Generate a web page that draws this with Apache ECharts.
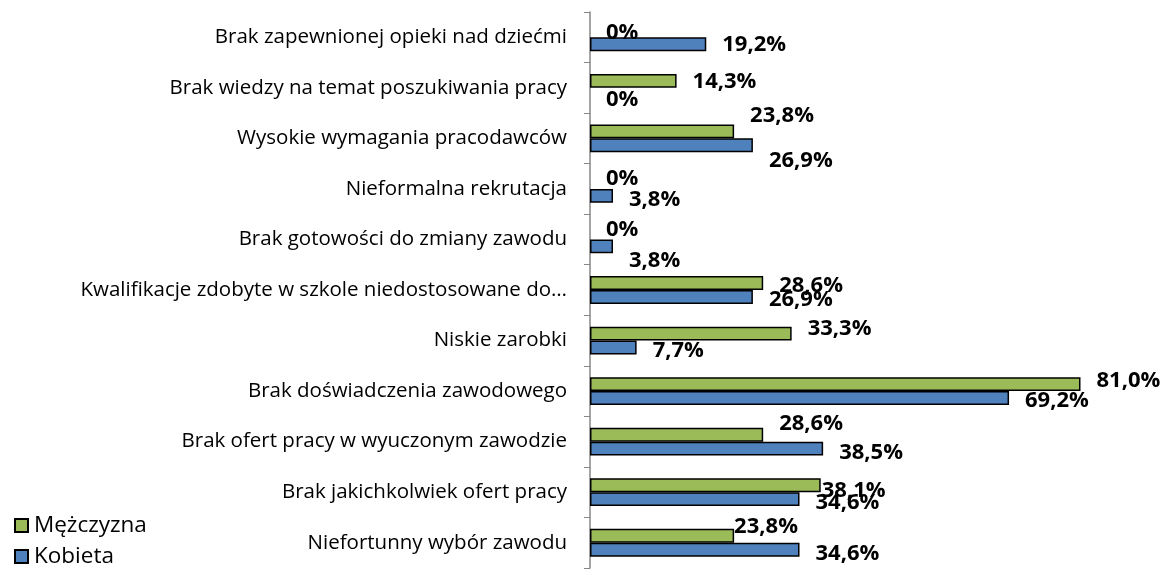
<!DOCTYPE html>
<html>
<head>
<meta charset="utf-8">
<script src="https://cdn.jsdelivr.net/npm/echarts@6/dist/echarts.min.js"></script>
<style>
  html, body { margin: 0; padding: 0; background: #fff; }
  #chart { width: 1164px; height: 570px; }
</style>
</head>
<body>
<div id="chart"></div>
<script>
// kategorie od góry do dołu
const categories = [
  "Brak zapewnionej opieki nad dziećmi",
  "Brak wiedzy na temat poszukiwania pracy",
  "Wysokie wymagania pracodawców",
  "Nieformalna rekrutacja",
  "Brak gotowości do zmiany zawodu",
  "Kwalifikacje zdobyte w szkole niedostosowane do…",
  "Niskie zarobki",
  "Brak doświadczenia zawodowego",
  "Brak ofert pracy w wyuczonym zawodzie",
  "Brak jakichkolwiek ofert pracy",
  "Niefortunny wybór zawodu",
];
const men = [0, 14.3, 23.8, 0, 0, 28.6, 33.3, 81.0, 28.6, 38.1, 23.8];
const women = [19.2, 0, 26.9, 3.8, 3.8, 26.9, 7.7, 69.2, 38.5, 34.6, 34.6];

// ręczne przesunięcia etykiet (jak w oryginalnym wykresie)
const menLabelShift = [[0, 2], [0, 1], [0, -16], [0, -3], [0, -3], [0, 3], [0, -5], [0, -3], [0, -11], [-15, 6], [-16, -9]];
const womenLabelShift = [[0, 1], [0, 5], [0, 15], [0, 4], [0, 14], [0, 3], [0, 3], [0, 3], [0, 4], [0, 4], [0, 4]];

const fmt = (v) => (v === 0 ? "0%" : v.toFixed(1).replace(".", ",") + "%");

const chart = echarts.init(document.getElementById("chart"));

const labelBase = {
  show: true,
  position: "right",
  distance: 16,
  color: "#000",
  fontFamily: "Open Sans",
  fontWeight: "bold",
  fontSize: 22,
  formatter: (p) => fmt(p.value),
};

const toItems = (arr, shifts) =>
  arr.map((v, i) => ({
    value: v,
    itemStyle: v === 0 ? { borderWidth: 0 } : undefined,
    label: { offset: shifts[i] },
  }));

chart.setOption({
  animation: false,
  legend: {
    orient: "vertical",
    left: 14,
    bottom: 2,
    padding: 0,
    icon: "rect",
    itemWidth: 13,
    itemHeight: 13,
    itemGap: 8,
    textStyle: { fontFamily: "Open Sans", fontSize: 22.5, color: "#000", padding: [0, 0, 0, 1] },
    data: ["Mężczyzna", "Kobieta"],
  },
  grid: { left: 590, top: 12, width: 545, height: 556 },
  xAxis: {
    type: "value",
    min: 0,
    max: 90,
    show: false,
  },
  yAxis: {
    type: "category",
    inverse: true,
    data: categories,
    axisLine: { lineStyle: { color: "#868686", width: 1.5 } },
    axisTick: { show: true, length: 6, lineStyle: { color: "#868686" } },
    axisLabel: { color: "#000", fontFamily: "Open Sans", fontSize: 20.5, margin: 23 },
  },
  series: [
    {
      name: "Mężczyzna",
      type: "bar",
      barGap: "0%",
      barCategoryGap: "45%",
      itemStyle: { color: "#9BBB59", borderColor: "#000", borderWidth: 1.5 },
      label: labelBase,
      data: toItems(men, menLabelShift),
    },
    {
      name: "Kobieta",
      type: "bar",
      itemStyle: { color: "#4F81BD", borderColor: "#000", borderWidth: 1.5 },
      label: labelBase,
      data: toItems(women, womenLabelShift),
    },
  ],
});
</script>
</body>
</html>
